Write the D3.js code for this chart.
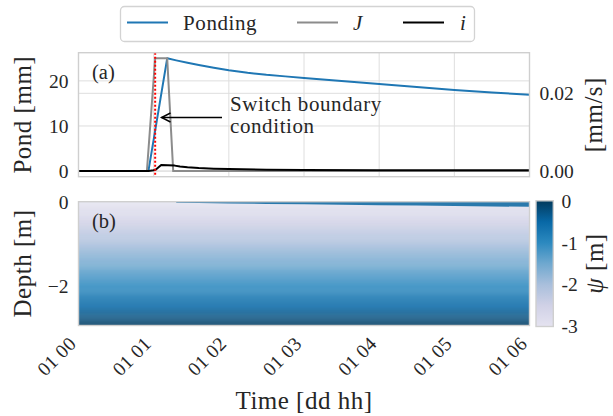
<!DOCTYPE html>
<html><head><meta charset="utf-8">
<script src="https://cdn.jsdelivr.net/npm/d3@7"></script>
<style>
body{margin:0;background:#fff}
svg{display:block}
text{font-family:"Liberation Serif","Times New Roman",serif;fill:#262626}
</style>
</head><body>
<svg id="chart" width="613" height="416"></svg>
<script>
// ---------------- data (hours after 01 00) ----------------
const pondTimes  = [0, 0.93, 1.18, 1.3, 1.45, 1.6, 1.8, 2.0, 2.25, 2.5, 2.75, 3.0, 3.5, 4.0, 4.5, 5.0, 5.5, 6.0];
const pondValues = [0, 0, 25.0, 24.55, 24.0, 23.5, 22.9, 22.35, 21.8, 21.35, 21.0, 20.65, 19.95, 19.3, 18.65, 18.0, 17.45, 16.9];
const jTimes  = [0, 0.91, 1.02, 1.18, 1.26, 6.0];
const jValues = [0, 0, 0.029, 0.029, 0, 0];
const iTimes  = [0, 0.93, 1.0, 1.03, 1.1, 1.28, 1.35, 1.45, 1.6, 1.8, 2.0, 2.5, 3.0, 4.0, 5.0, 6.0];
const iValues = [0, 0, 0.0002, 0.0004, 0.00155, 0.0014, 0.0012, 0.001, 0.0008, 0.00062, 0.0005, 0.00035, 0.00028, 0.00022, 0.0002, 0.00018];
const switchTime = 1.02;
const xTickHours = [0, 1, 2, 3, 4, 5, 6];
const pondTicks = [0, 10, 20];
const rateTicks = [0, 0.02];
const depthLevels = [0, -0.25, -0.5, -0.75, -1.0, -1.25, -1.5, -1.75, -2.0, -2.25, -2.5, -2.75, -2.95];
const psiProfile  = [-3.0, -2.75, -2.5, -2.25, -2.0, -1.75, -1.5, -1.25, -1.0, -0.75, -0.5, -0.25, -0.05];
const frontTimes  = [1.3, 1.6, 2.0, 2.5, 3.0, 3.5, 4.0, 4.5, 5.0, 5.5, 6.0];
const frontDepths = [0, 0.008, 0.02, 0.03, 0.04, 0.05, 0.06, 0.07, 0.08, 0.09, 0.1];
const frontPsi = -0.45;
const depthTicks = [0, -2];
const psiTicks = [0, -1, -2, -3];

// ---------------- layout ----------------
const svg = d3.select("#chart");
const L = 78.5, R = 529.5;
const aTop = 52.7, aBot = 176.7;
const bTop = 201.7, bBot = 325.5;
const cbX0 = 536, cbX1 = 553.3, cbTop = 200.8, cbBot = 326.5;
const base = Date.UTC(2000, 0, 1, 0, 0);
const toDate = h => new Date(base + h * 3600e3);

const x = d3.scaleUtc().domain([toDate(0), toDate(6)]).range([L, R]);
const yPond = d3.scaleLinear().domain([-1.25, 26.25]).range([aBot, aTop]);
const yRate = d3.scaleLinear().domain([-0.00145, 0.03045]).range([aBot, aTop]);
const yDepth = d3.scaleLinear().domain([-2.95, 0.024]).range([bBot, bTop]);
const cbScale = d3.scaleLinear().domain([-3, 0]).range([cbBot, cbTop]);

const cmapStops = [-3, -2.5, -2, -1.5, -1, -0.5, 0];
const cmapColors = ["#e5e3f0", "#d0d1e6", "#a9bfdc", "#6fa8cf", "#2c89bf", "#0868a6", "#033a5c"];
const color = d3.scaleLinear().domain(cmapStops).range(cmapColors).clamp(true);

const gridColor = "#dedede", frameColor = "#cfcfcf";
const tickFont = 19.5;
const labelFont = 25, labelLS = 0.5;
const smallFont = 21, smallLS = 0.6;

// ---------------- legend ----------------
const lg = svg.append("g");
lg.append("rect").attr("x", 120.5).attr("y", 6.5).attr("width", 354).attr("height", 35)
  .attr("rx", 4).attr("fill", "#fff").attr("stroke", "#d3d3d3").attr("stroke-width", 1.3);
const legendItems = [
  {label: "Ponding", color: "#1f77b4", w: 2, x0: 127, tx: 183, italic: false},
  {label: "J", color: "#8c8c8c", w: 2, x0: 297, tx: 353, italic: true},
  {label: "i", color: "#000", w: 2, x0: 403, tx: 460, italic: true}
];
legendItems.forEach(d => {
  lg.append("line").attr("x1", d.x0).attr("x2", d.x0 + 41).attr("y1", 22.5).attr("y2", 22.5)
    .attr("stroke", d.color).attr("stroke-width", d.w);
  lg.append("text").attr("x", d.tx).attr("y", 29.5).attr("font-size", smallFont)
    .attr("letter-spacing", smallLS)
    .attr("font-style", d.italic ? "italic" : "normal").text(d.label);
});

// ---------------- panel (a) ----------------
const ga = svg.append("g");
ga.append("clipPath").attr("id", "clipA").append("rect")
  .attr("x", L).attr("y", aTop).attr("width", R - L).attr("height", aBot - aTop);
xTickHours.forEach(h => ga.append("line").attr("x1", x(toDate(h))).attr("x2", x(toDate(h)))
  .attr("y1", aTop).attr("y2", aBot).attr("stroke", gridColor).attr("stroke-width", 1));
pondTicks.forEach(v => ga.append("line").attr("x1", L).attr("x2", R).attr("y1", yPond(v)).attr("y2", yPond(v))
  .attr("stroke", gridColor).attr("stroke-width", 1));
rateTicks.forEach(v => ga.append("line").attr("x1", L).attr("x2", R).attr("y1", yRate(v)).attr("y2", yRate(v))
  .attr("stroke", gridColor).attr("stroke-width", 1));

const lineGen = (ys) => d3.line().x(d => x(toDate(d[0]))).y(d => ys(d[1]));
const plotA = ga.append("g").attr("clip-path", "url(#clipA)");
plotA.append("path").datum(d3.zip(pondTimes, pondValues)).attr("d", lineGen(yPond))
  .attr("fill", "none").attr("stroke", "#1f77b4").attr("stroke-width", 2).attr("stroke-linejoin", "round");
plotA.append("path").datum(d3.zip(jTimes, jValues)).attr("d", lineGen(yRate))
  .attr("fill", "none").attr("stroke", "#8c8c8c").attr("stroke-width", 2);
plotA.append("path").datum(d3.zip(iTimes, iValues)).attr("d", lineGen(yRate))
  .attr("fill", "none").attr("stroke", "#000").attr("stroke-width", 2).attr("stroke-linejoin", "round");
plotA.append("line").attr("x1", x(toDate(switchTime))).attr("x2", x(toDate(switchTime)))
  .attr("y1", aTop).attr("y2", aBot).attr("stroke", "#ff0000").attr("stroke-width", 2)
  .attr("stroke-dasharray", "2,2");

ga.append("rect").attr("x", L).attr("y", aTop).attr("width", R - L).attr("height", aBot - aTop)
  .attr("fill", "none").attr("stroke", frameColor).attr("stroke-width", 1.4);

const axL = ga.append("g").attr("transform", `translate(${L},0)`)
  .call(d3.axisLeft(yPond).tickValues(pondTicks).tickSize(0).tickPadding(10));
axL.select(".domain").remove();
axL.selectAll("text").attr("font-size", tickFont).attr("font-family", null).attr("fill", "#262626");
const axR = ga.append("g").attr("transform", `translate(${R},0)`)
  .call(d3.axisRight(yRate).tickValues(rateTicks).tickSize(0).tickPadding(10).tickFormat(d3.format(".2f")));
axR.select(".domain").remove();
axR.selectAll("text").attr("font-size", tickFont).attr("font-family", null).attr("fill", "#262626");

ga.append("text").attr("x", 92).attr("y", 78.5).attr("font-size", 20.5).text("(a)");
ga.append("text").attr("transform", "translate(31,114.7) rotate(-90)").attr("text-anchor", "middle")
  .attr("font-size", labelFont).attr("letter-spacing", labelLS).text("Pond [mm]");
ga.append("text").attr("transform", "translate(602,114.7) rotate(-90)").attr("text-anchor", "middle")
  .attr("font-size", labelFont).attr("letter-spacing", labelLS).text("[mm/s]");

// annotation
const ann = ga.append("g");
ann.append("text").attr("x", 230).attr("y", 111).attr("font-size", smallFont)
  .attr("letter-spacing", smallLS).text("Switch boundary");
ann.append("text").attr("x", 230).attr("y", 133).attr("font-size", smallFont)
  .attr("letter-spacing", smallLS).text("condition");
const tipX = 161.5, tipY = 117.5;
ann.append("line").attr("x1", 222).attr("x2", tipX).attr("y1", tipY).attr("y2", tipY)
  .attr("stroke", "#000").attr("stroke-width", 1.4);
ann.append("path").attr("d", `M${tipX + 9},${tipY - 4.5} L${tipX},${tipY} L${tipX + 9},${tipY + 4.5}`)
  .attr("fill", "none").attr("stroke", "#000").attr("stroke-width", 1.4);

// ---------------- panel (b) ----------------
const gb = svg.append("g");
gb.append("clipPath").attr("id", "clipB").append("rect")
  .attr("x", L).attr("y", bTop).attr("width", R - L).attr("height", bBot - bTop);
const plotB = gb.append("g").attr("clip-path", "url(#clipB)").attr("opacity", 0.86);
const psiAtDepth = d3.scaleLinear().domain(depthLevels).range(psiProfile);
const rowStep = 0.025;
const rows = d3.range(0.024, -2.95, -rowStep);
plotB.selectAll("rect.row").data(rows).join("rect").attr("class", "row")
  .attr("x", L).attr("width", R - L)
  .attr("y", d => yDepth(d)).attr("height", d => yDepth(d - rowStep) - yDepth(d) + 0.6)
  .attr("fill", d => color(psiAtDepth(Math.min(0, d - rowStep / 2))));
const frontArea = d3.area().x(d => x(toDate(d[0]))).y0(yDepth(0.024)).y1(d => yDepth(-d[1]));
plotB.append("path").datum(d3.zip(frontTimes, frontDepths)).attr("d", frontArea)
  .attr("fill", color(frontPsi));
gb.append("rect").attr("x", L).attr("y", bTop).attr("width", R - L).attr("height", bBot - bTop)
  .attr("fill", "none").attr("stroke", frameColor).attr("stroke-width", 1.4);

const axD = gb.append("g").attr("transform", `translate(${L},0)`)
  .call(d3.axisLeft(yDepth).tickValues(depthTicks).tickSize(0).tickPadding(10).tickFormat(d3.format("d")));
axD.select(".domain").remove();
axD.selectAll("text").attr("font-size", tickFont).attr("font-family", null).attr("fill", "#262626");

gb.append("text").attr("x", 92).attr("y", 228).attr("font-size", 20.5).text("(b)");
gb.append("text").attr("transform", "translate(31,263.5) rotate(-90)").attr("text-anchor", "middle")
  .attr("font-size", labelFont).attr("letter-spacing", labelLS).text("Depth [m]");

// x axis labels
xTickHours.forEach(h => {
  svg.append("text").attr("transform", `translate(${x(toDate(h)) - 1.2},345) rotate(-45)`)
    .attr("text-anchor", "end").attr("font-size", tickFont).attr("letter-spacing", 0.3)
    .text(d3.utcFormat("%d %H")(toDate(h)));
});
svg.append("text").attr("x", (L + R) / 2).attr("y", 409).attr("text-anchor", "middle")
  .attr("font-size", labelFont).attr("letter-spacing", labelLS).text("Time [dd hh]");

// ---------------- colorbar ----------------
const defs = svg.append("defs");
const grad = defs.append("linearGradient").attr("id", "cbGrad")
  .attr("x1", 0).attr("x2", 0).attr("y1", 1).attr("y2", 0);
cmapStops.forEach(s => grad.append("stop").attr("offset", (s + 3) / 3).attr("stop-color", color(s)));
svg.append("rect").attr("x", cbX0).attr("y", cbTop).attr("width", cbX1 - cbX0).attr("height", cbBot - cbTop)
  .attr("fill", "url(#cbGrad)").attr("stroke", frameColor).attr("stroke-width", 1.4);
psiTicks.forEach(v => svg.append("text").attr("x", 561.5).attr("y", cbScale(v)).attr("dy", "0.35em")
  .attr("font-size", tickFont).text(String(v)));
const cbl = svg.append("text").attr("transform", "translate(603,263.5) rotate(-90)").attr("text-anchor", "middle")
  .attr("font-size", labelFont).attr("letter-spacing", labelLS);
cbl.append("tspan").attr("font-style", "italic").text("ψ");
cbl.append("tspan").text(" [m]");
</script>
</body></html>
